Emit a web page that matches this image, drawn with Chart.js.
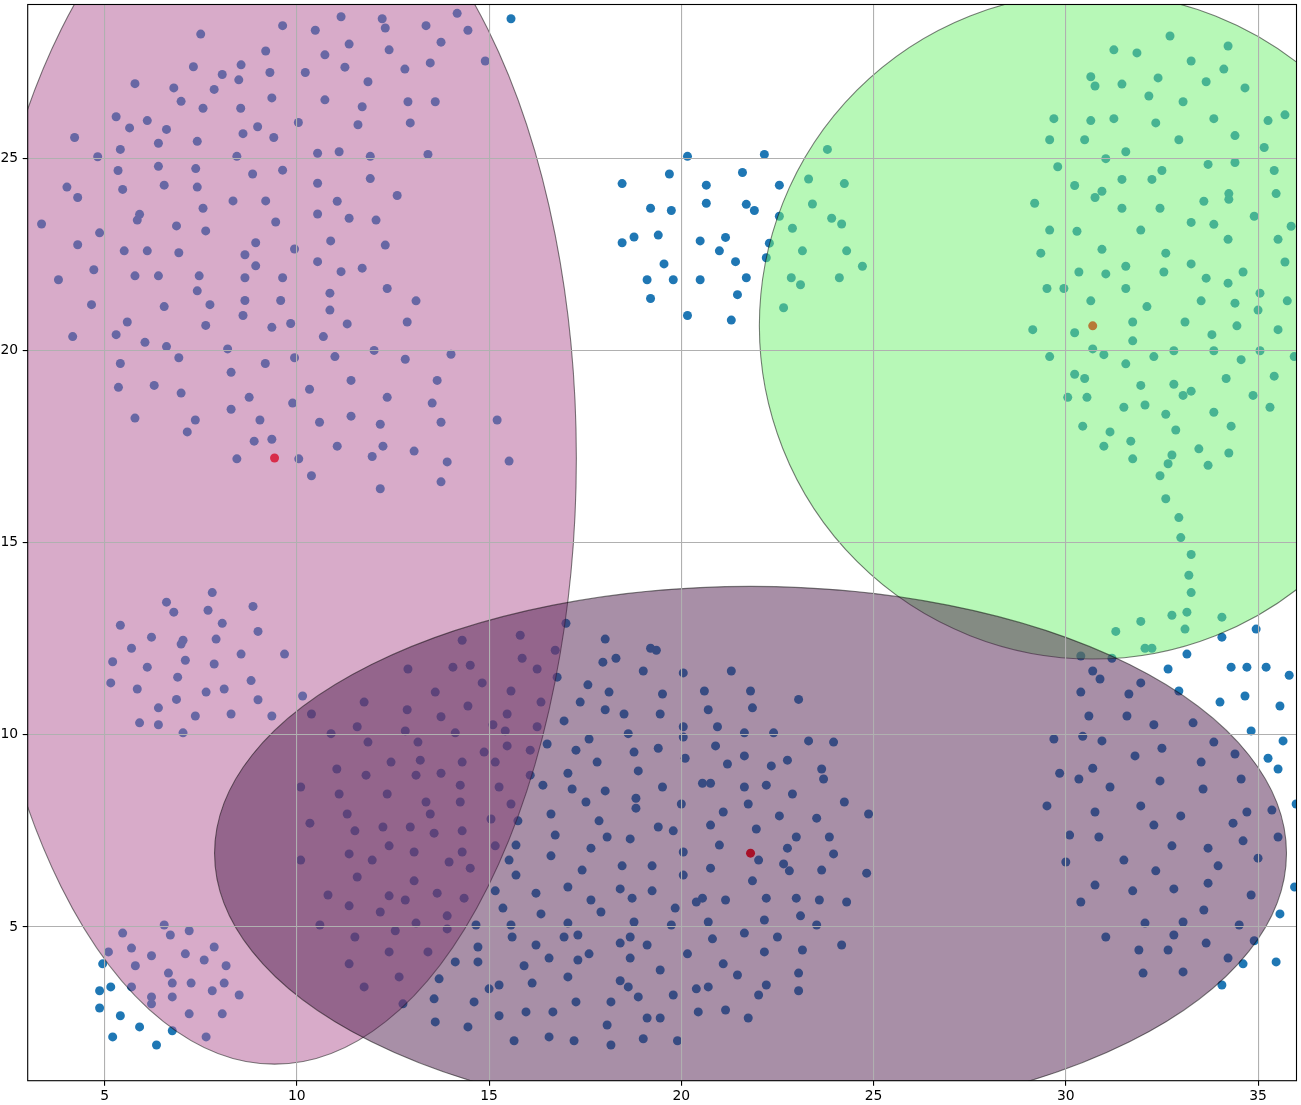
<!DOCTYPE html>
<html><head><meta charset="utf-8">
<script src="https://cdn.jsdelivr.net/npm/chart.js@4.4.1/dist/chart.umd.min.js"></script>
<style>html,body{margin:0;padding:0;background:#fff;}canvas{display:block;}</style>
</head><body>
<canvas id="c" width="1301" height="1105"></canvas>
<script>
// ---- data: sample points by region of the plot ([x, y]) ----
const ptsTopLeft = [[7.50,28.23],[9.63,28.45],[10.48,28.33],[10.73,27.69],[9.19,27.79],[7.31,27.38],[8.55,27.43],[8.06,27.18],[8.49,27.04],[9.30,27.23],[10.22,27.23],[5.79,26.94],[6.80,26.83],[7.85,26.79],[6.99,26.48],[7.56,26.30],[8.54,26.30],[9.35,26.57],[10.73,26.52],[5.30,26.08],[6.11,25.98],[5.65,25.79],[6.61,25.75],[10.04,25.93],[8.98,25.82],[8.60,25.64],[9.40,25.54],[4.22,25.54],[7.41,25.44],[6.40,25.39],[5.41,25.23],[4.82,25.04],[8.44,25.05],[10.54,25.13],[6.40,24.79],[7.37,24.73],[5.35,24.68],[9.63,24.69],[8.85,24.59],[4.02,24.25],[4.30,23.98],[5.47,24.19],[6.55,24.30],[7.41,24.25],[10.54,24.35],[8.34,23.89],[9.19,23.89],[7.56,23.70],[5.91,23.54],[5.85,23.39],[3.36,23.29],[6.87,23.24],[9.45,23.34],[10.54,23.55],[4.87,23.06],[7.63,23.11],[4.30,22.75],[8.93,22.80],[5.51,22.59],[6.11,22.59],[6.93,22.54],[8.65,22.49],[9.94,22.64],[4.72,22.10],[8.93,22.20],[3.80,21.84],[5.79,21.94],[6.40,21.94],[7.46,21.94],[8.65,21.89],[9.63,21.89],[10.54,22.31],[7.41,21.55],[4.66,21.19],[6.55,21.14],[7.74,21.19],[8.65,21.30],[9.58,21.30],[8.60,20.91],[5.59,20.74],[7.63,20.65],[9.35,20.60],[9.84,20.70],[4.17,20.36],[5.30,20.41],[6.05,20.21],[6.61,20.10],[8.20,20.04],[10.69,20.36],[5.41,19.66],[6.93,19.81],[9.18,19.66],[9.94,19.81]];
const ptsTopMidLeft = [[11.15,28.68],[12.22,28.63],[12.30,28.39],[13.36,28.45],[14.17,28.77],[14.45,28.33],[11.36,27.97],[12.40,27.82],[13.75,28.02],[11.25,27.37],[12.81,27.32],[13.47,27.48],[14.90,27.53],[11.85,26.99],[11.70,26.34],[12.89,26.47],[13.60,26.47],[11.59,25.87],[12.95,25.92],[11.10,25.17],[11.91,25.05],[13.41,25.10],[11.91,24.47],[12.61,24.03],[11.05,23.88],[11.36,23.44],[12.06,23.39],[10.88,22.85],[12.30,22.74],[11.15,22.05],[11.70,22.14],[10.86,21.49],[12.35,21.61],[13.10,21.29],[10.86,21.05],[11.31,20.69],[12.87,20.74],[12.01,20.00],[10.99,19.84],[12.82,19.77],[14.01,19.90],[15.57,28.63],[18.46,24.34],[19.20,23.70],[18.77,22.95],[18.46,22.80],[19.11,21.84],[19.20,21.35]];
const ptsTopMidRight = [[20.16,25.05],[22.16,25.10],[19.69,24.59],[20.65,24.30],[21.59,24.63],[22.55,24.30],[19.74,23.64],[20.65,23.83],[21.69,23.80],[21.90,23.64],[22.55,23.49],[19.40,23.00],[20.49,22.85],[21.15,22.94],[20.99,22.59],[21.41,22.31],[22.29,22.79],[22.21,22.41],[19.55,22.25],[19.79,21.84],[20.49,21.84],[21.69,21.89],[21.46,21.45],[20.16,20.91],[21.30,20.79],[23.80,25.23],[23.31,24.46],[24.24,24.34],[23.41,23.81],[23.91,23.44],[24.17,23.29],[22.89,23.18],[23.15,22.59],[24.30,22.59],[24.71,22.19],[22.86,21.89],[23.10,21.71],[24.11,21.89],[22.66,21.11]];
const ptsTopRight = [[32.71,28.18],[34.22,27.92],[31.25,27.82],[31.85,27.74],[33.26,27.53],[34.11,27.32],[30.65,27.12],[30.76,26.88],[31.46,26.93],[32.40,27.09],[33.65,26.99],[34.66,26.83],[32.16,26.62],[33.05,26.47],[29.69,26.03],[30.65,25.98],[31.25,26.03],[32.34,25.92],[33.85,26.03],[35.26,25.98],[35.70,26.13],[29.58,25.48],[30.49,25.48],[32.94,25.48],[34.40,25.59],[35.16,25.28],[31.56,25.17],[31.04,24.99],[29.79,24.78],[33.70,24.84],[34.40,24.89],[35.42,24.68],[32.50,24.68],[31.46,24.45],[32.24,24.45],[30.23,24.29],[30.94,24.14],[30.76,23.98],[34.24,24.08],[34.24,23.93],[35.47,24.08],[29.19,23.83],[31.46,23.70],[32.45,23.70],[33.59,23.88],[34.90,23.49],[33.26,23.33],[33.85,23.28],[35.86,23.23],[29.58,23.13],[30.29,23.10],[31.95,23.13],[34.22,22.89],[35.52,22.89],[29.35,22.53],[30.94,22.63],[32.60,22.53],[35.70,22.30],[31.56,22.19],[30.34,22.04],[31.04,21.99],[32.55,22.04],[33.26,22.25],[33.65,21.88],[34.61,22.04],[34.22,21.75],[29.51,21.61],[29.95,21.61],[31.56,21.61],[30.65,21.29],[32.11,21.14],[33.52,21.29],[34.40,21.23],[35.05,21.49],[35.00,21.05],[35.76,21.29],[31.74,20.74],[33.10,20.74],[29.14,20.54],[30.23,20.46],[34.45,20.64],[35.52,20.54],[33.80,20.41],[31.74,20.25],[30.70,20.04],[30.99,19.89],[29.58,19.84],[31.56,19.65],[32.29,19.84],[32.81,19.99],[33.85,19.99],[35.05,19.99],[34.56,19.76],[35.94,19.84]];
const ptsMidLeft = [[8.29,19.43],[5.36,19.04],[6.29,19.09],[6.99,18.89],[8.29,18.47],[8.76,18.78],[9.89,18.63],[10.33,18.99],[5.79,18.24],[7.36,18.19],[7.15,17.88],[9.04,18.19],[10.59,18.13],[8.89,17.64],[9.35,17.69],[8.44,17.18],[10.05,17.18],[10.38,16.74],[7.80,13.70],[6.61,13.45],[6.80,13.19],[7.69,13.24],[8.86,13.34],[8.06,12.90],[5.41,12.85],[8.99,12.69],[6.22,12.54],[7.04,12.46],[6.99,12.36],[7.90,12.49],[5.70,12.25],[5.21,11.90],[7.10,11.94],[8.55,12.10],[9.68,12.10],[6.11,11.76],[7.85,11.84],[5.16,11.35],[6.90,11.50],[8.81,11.41],[5.85,11.19],[7.64,11.11],[8.11,11.19],[10.15,11.01],[6.87,10.92],[8.99,10.91],[6.40,10.70],[7.36,10.49],[8.29,10.54],[9.35,10.49],[5.91,10.31],[6.40,10.26],[7.04,10.05],[10.38,10.54]];
const ptsMidMidLeft = [[11.41,19.22],[13.65,19.22],[12.35,18.78],[13.52,18.63],[11.41,18.29],[12.17,18.08],[13.75,18.13],[15.21,18.19],[11.05,17.51],[12.24,17.51],[11.96,17.24],[13.05,17.38],[13.91,17.10],[15.52,17.12],[12.17,16.40],[13.75,16.58],[14.30,12.46],[15.81,12.59],[17.00,12.90],[16.72,12.20],[18.02,12.49],[15.86,11.99],[12.89,11.71],[14.06,11.76],[14.51,11.81],[16.25,11.71],[16.77,11.50],[17.96,11.89],[18.30,11.99],[19.20,12.25],[19.01,11.66],[14.82,11.35],[17.57,11.30],[13.60,11.11],[15.57,11.14],[18.12,11.11],[11.75,10.85],[12.87,10.65],[14.45,10.75],[16.35,10.85],[17.37,10.85],[18.02,10.65],[13.75,10.47],[15.47,10.54],[18.51,10.54],[11.57,10.21],[12.82,10.10],[14.12,10.05],[15.10,10.26],[15.42,10.10],[16.25,10.21],[16.95,10.36],[10.89,10.03],[18.62,10.03]];
const ptsMidMidRight = [[19.35,12.20],[20.05,11.61],[21.30,11.66],[19.51,11.06],[20.60,11.14],[21.80,11.14],[23.05,10.92],[19.45,10.54],[20.70,10.65],[21.85,10.70],[20.05,10.21],[20.94,10.21],[21.64,10.05],[22.40,10.05]];
const ptsMidRight = [[30.23,19.38],[30.49,19.27],[31.95,19.09],[32.81,19.12],[33.05,18.83],[33.26,18.94],[34.17,19.27],[35.42,19.33],[30.05,18.78],[30.55,18.78],[31.51,18.52],[32.06,18.58],[32.60,18.34],[33.85,18.39],[34.87,18.83],[35.31,18.52],[30.44,18.03],[31.15,17.88],[32.86,17.93],[34.30,18.03],[30.99,17.51],[31.69,17.64],[31.74,17.18],[32.76,17.28],[32.66,17.05],[33.46,17.44],[34.24,17.33],[33.70,17.01],[32.45,16.74],[32.60,16.14],[32.94,15.65],[32.99,15.13],[33.26,14.69],[33.20,14.15],[33.26,13.70],[32.76,13.11],[33.15,13.19],[34.06,13.06],[31.95,12.95],[31.30,12.69],[33.10,12.75],[32.06,12.25],[32.24,12.25],[30.39,12.05],[31.20,11.99],[30.70,11.66],[30.89,11.45],[31.95,11.35],[30.39,11.11],[31.64,11.06],[30.60,10.49],[31.59,10.49],[32.29,10.26],[33.31,10.31],[32.94,11.14],[34.06,12.54],[34.95,12.75],[33.15,12.10],[32.66,11.71],[34.30,11.76],[34.71,11.76],[35.21,11.76],[35.81,11.55],[34.01,10.85],[34.66,11.01],[35.57,10.75],[34.82,10.10]];
const ptsBottomLeft = [[10.10,8.64],[10.34,7.70],[10.10,6.74],[10.60,5.05],[6.55,5.05],[5.47,4.84],[6.71,4.79],[7.20,4.90],[5.10,4.35],[5.70,4.45],[6.22,4.25],[7.10,4.30],[7.85,4.48],[7.59,4.14],[4.95,4.04],[5.80,3.99],[8.16,3.99],[6.66,3.80],[6.76,3.54],[7.25,3.54],[8.11,3.54],[5.16,3.44],[5.70,3.44],[4.87,3.34],[7.80,3.34],[6.22,3.18],[6.76,3.18],[8.50,3.23],[6.22,3.00],[4.87,2.89],[5.41,2.69],[7.20,2.74],[8.06,2.74],[5.91,2.40],[6.76,2.30],[5.21,2.14],[7.64,2.14],[6.35,1.93]];
const ptsBottomMidLeft = [[11.85,9.81],[13.15,9.81],[15.47,9.71],[16.07,9.60],[16.51,9.76],[17.26,9.60],[17.60,9.89],[18.77,9.55],[14.87,9.55],[11.04,9.11],[12.45,9.29],[13.21,9.34],[14.30,9.29],[15.16,9.29],[17.81,9.29],[11.80,8.95],[13.10,8.95],[13.75,9.00],[16.07,8.95],[17.05,9.00],[18.88,9.06],[11.10,8.46],[12.35,8.46],[14.25,8.69],[15.26,8.64],[16.40,8.69],[17.16,8.59],[18.02,8.54],[13.36,8.25],[14.25,8.25],[15.57,8.20],[17.52,8.25],[18.82,8.35],[18.82,8.09],[11.31,7.94],[13.47,7.94],[15.05,7.81],[15.75,7.76],[16.61,7.94],[17.86,7.76],[11.51,7.50],[12.24,7.60],[12.95,7.60],[13.57,7.44],[14.30,7.50],[16.72,7.39],[18.07,7.34],[18.67,7.29],[11.36,6.90],[12.40,7.11],[13.05,6.95],[14.30,6.95],[15.16,7.11],[15.70,7.13],[16.61,6.85],[17.65,7.05],[11.96,6.74],[13.96,6.69],[14.51,6.53],[15.52,6.74],[15.70,6.35],[17.42,6.48],[18.46,6.59],[11.57,6.30],[13.05,6.20],[10.81,5.83],[12.40,5.81],[12.82,5.70],[13.65,5.88],[14.35,5.75],[15.16,5.94],[16.22,5.88],[17.05,6.04],[17.65,5.70],[18.41,5.99],[18.72,5.75],[11.36,5.55],[12.17,5.39],[13.91,5.29],[15.36,5.49],[16.35,5.34],[17.91,5.39],[13.10,5.10],[13.91,4.95],[14.66,5.05],[15.57,5.05],[17.05,5.10],[18.77,5.13],[11.51,4.74],[12.56,4.90],[15.60,4.74],[16.95,4.74],[17.31,4.79],[18.67,4.74],[12.40,4.35],[13.41,4.35],[14.71,4.48],[16.22,4.53],[18.41,4.58],[19.11,4.53],[11.36,4.04],[14.12,4.09],[14.71,4.09],[15.91,3.99],[16.56,4.19],[17.31,4.14],[17.60,4.30],[18.67,4.19],[12.66,3.70],[13.70,3.65],[17.05,3.70],[11.75,3.44],[15.00,3.39],[15.26,3.49],[16.12,3.54],[18.41,3.60],[18.62,3.44],[12.76,3.00],[13.57,3.13],[14.61,3.05],[17.26,3.05],[18.17,3.05],[18.88,3.18],[15.26,2.69],[15.96,2.79],[16.66,2.79],[19.11,2.63],[13.60,2.53],[14.45,2.40],[18.07,2.45],[15.65,2.04],[16.56,2.14],[17.21,2.04],[18.17,1.93],[19.01,2.09]];
const ptsBottomMidRight = [[20.05,9.94],[19.40,9.65],[20.89,9.71],[20.10,9.39],[21.64,9.45],[21.20,9.24],[22.34,9.19],[22.76,9.34],[23.31,9.84],[23.96,9.81],[23.65,9.11],[23.70,8.85],[19.51,8.64],[20.55,8.74],[20.76,8.74],[21.64,8.64],[22.21,8.69],[22.89,8.46],[20.00,8.20],[21.74,8.20],[21.09,7.99],[22.55,7.89],[23.52,7.83],[24.24,8.25],[24.87,7.94],[19.40,7.60],[19.79,7.50],[20.76,7.65],[21.95,7.55],[22.99,7.34],[23.85,7.34],[20.05,6.95],[20.99,7.13],[22.76,7.05],[23.96,6.90],[19.24,6.59],[20.76,6.53],[22.01,6.74],[22.66,6.64],[22.81,6.46],[23.65,6.48],[24.82,6.40],[20.05,6.35],[21.85,6.20],[19.24,5.94],[20.39,5.65],[20.55,5.75],[21.15,5.70],[22.21,5.75],[22.99,5.75],[23.59,5.70],[24.30,5.65],[19.84,5.49],[19.74,5.05],[20.70,5.13],[22.16,5.18],[23.10,5.29],[23.52,5.05],[20.81,4.69],[21.64,4.84],[22.50,4.74],[24.17,4.53],[20.16,4.30],[22.16,4.35],[23.15,4.40],[19.45,3.88],[21.09,4.04],[21.46,3.75],[23.05,3.80],[19.79,3.23],[20.39,3.39],[20.70,3.44],[22.01,3.23],[22.21,3.49],[23.05,3.34],[20.44,2.79],[21.15,2.84],[19.45,2.63],[21.74,2.63],[19.90,2.04]];
const ptsBottomRight = [[29.69,9.89],[30.44,9.96],[30.94,9.84],[32.50,9.65],[31.80,9.45],[33.85,9.81],[34.40,9.50],[33.52,9.29],[29.84,9.00],[30.34,8.85],[30.70,9.13],[31.15,8.64],[32.45,8.80],[33.57,8.59],[34.56,8.85],[29.51,8.15],[30.76,7.99],[31.95,8.15],[32.29,7.65],[32.99,7.89],[34.35,7.70],[34.71,7.99],[35.36,8.04],[30.10,7.39],[30.86,7.34],[32.76,7.11],[33.70,7.05],[34.61,7.24],[35.52,7.34],[30.00,6.69],[31.51,6.74],[32.34,6.46],[33.96,6.59],[35.00,6.79],[30.76,6.09],[31.74,5.94],[32.81,5.99],[33.70,6.14],[34.82,5.83],[30.39,5.65],[33.59,5.44],[32.06,5.10],[33.05,5.13],[34.51,5.05],[31.04,4.74],[32.81,4.79],[31.90,4.40],[32.66,4.40],[33.65,4.58],[34.90,4.64],[34.22,4.19],[32.01,3.80],[33.05,3.83],[35.65,9.84],[35.26,9.39],[35.52,9.11],[35.99,8.20],[35.95,6.04],[35.57,5.34],[34.61,4.04],[35.47,4.09],[34.06,3.49]];

// cluster centres and ellipse half-extents (data units)
const centerX = [9.42, 30.70, 21.80];
const centerY = [17.20, 20.64, 6.92];
const ellipseHalfW = [7.85, 8.67, 13.94];
const ellipseHalfH = [15.77, 8.67, 6.94];
const ellipseFill = ['rgba(177,87,147,0.5)', 'rgba(111,241,111,0.5)', 'rgba(81,31,79,0.5)'];

// axes
const xRange = [3, 36];
const yRange = [1, 29];
const xTicks = [5, 10, 15, 20, 25, 30, 35];
const yTicks = [5, 10, 15, 20, 25];

const allPoints = [].concat(ptsTopLeft, ptsTopMidLeft, ptsTopMidRight, ptsTopRight,
  ptsMidLeft, ptsMidMidLeft, ptsMidMidRight, ptsMidRight,
  ptsBottomLeft, ptsBottomMidLeft, ptsBottomMidRight, ptsBottomRight);

const ellipsePlugin = {
  id: 'ellipses',
  afterDatasetsDraw(chart) {
    const {ctx, chartArea: a, scales: {x, y}} = chart;
    ctx.save();
    ctx.beginPath();
    ctx.rect(a.left, a.top, a.right - a.left, a.bottom - a.top);
    ctx.clip();
    for (let i = 0; i < centerX.length; i++) {
      const cx = x.getPixelForValue(centerX[i]);
      const cy = y.getPixelForValue(centerY[i]);
      const rx = Math.abs(x.getPixelForValue(centerX[i] + ellipseHalfW[i]) - cx);
      const ry = Math.abs(y.getPixelForValue(centerY[i] + ellipseHalfH[i]) - cy);
      ctx.beginPath();
      ctx.ellipse(cx, cy, rx, ry, 0, 0, Math.PI * 2);
      ctx.fillStyle = ellipseFill[i];
      ctx.fill();
      ctx.lineWidth = 1.1;
      ctx.strokeStyle = 'rgba(0,0,0,0.5)';
      ctx.stroke();
    }
    ctx.restore();
  },
  afterDraw(chart) {
    const {ctx, chartArea: a} = chart;
    ctx.save();
    ctx.strokeStyle = '#000';
    ctx.lineWidth = 1.1;
    ctx.strokeRect(a.left, a.top, a.right - a.left, a.bottom - a.top);
    ctx.restore();
  }
};

function noPad(s) { s.paddingTop = 0; s.paddingBottom = 0; s.paddingLeft = 0; s.paddingRight = 0; }

Chart.defaults.font.family = "'DejaVu Sans', sans-serif";

new Chart(document.getElementById('c'), {
  type: 'scatter',
  data: {
    datasets: [
      {
        data: allPoints.map(p => ({x: p[0], y: p[1]})),
        backgroundColor: '#1f77b4', borderWidth: 0,
        pointRadius: 4.5, pointHoverRadius: 4.5, clip: 0
      },
      {
        data: centerX.map((v, i) => ({x: v, y: centerY[i]})),
        backgroundColor: '#ff0000', borderWidth: 0,
        pointRadius: 4.5, pointHoverRadius: 4.5, clip: 0
      }
    ]
  },
  options: {
    responsive: false, animation: false, devicePixelRatio: 1, events: [],
    layout: {padding: {left: 0, right: 2.7, top: 3.3, bottom: 0}},
    plugins: {legend: {display: false}, tooltip: {enabled: false}},
    scales: {
      x: {
        type: 'linear', min: xRange[0], max: xRange[1],
        afterBuildTicks: s => { s.ticks = xTicks.map(v => ({value: v})); },
        afterFit: s => { s.height = 24.3; noPad(s); },
        grid: {color: '#b0b0b0', lineWidth: 1.1, tickColor: '#000', tickLength: 5, tickWidth: 1.1, z: 1},
        border: {display: false},
        ticks: {color: '#000', font: {size: 13.9}, padding: 2, maxRotation: 0, autoSkip: false}
      },
      y: {
        type: 'linear', min: yRange[0], max: yRange[1],
        afterBuildTicks: s => { s.ticks = yTicks.map(v => ({value: v})); },
        afterFit: s => { s.width = 27.7; noPad(s); },
        grid: {color: '#b0b0b0', lineWidth: 1.1, tickColor: '#000', tickLength: 5, tickWidth: 1.1, z: 1},
        border: {display: false},
        ticks: {color: '#000', font: {size: 13.9}, padding: 4.5, autoSkip: false}
      }
    }
  },
  plugins: [ellipsePlugin]
});
</script>
</body></html>
